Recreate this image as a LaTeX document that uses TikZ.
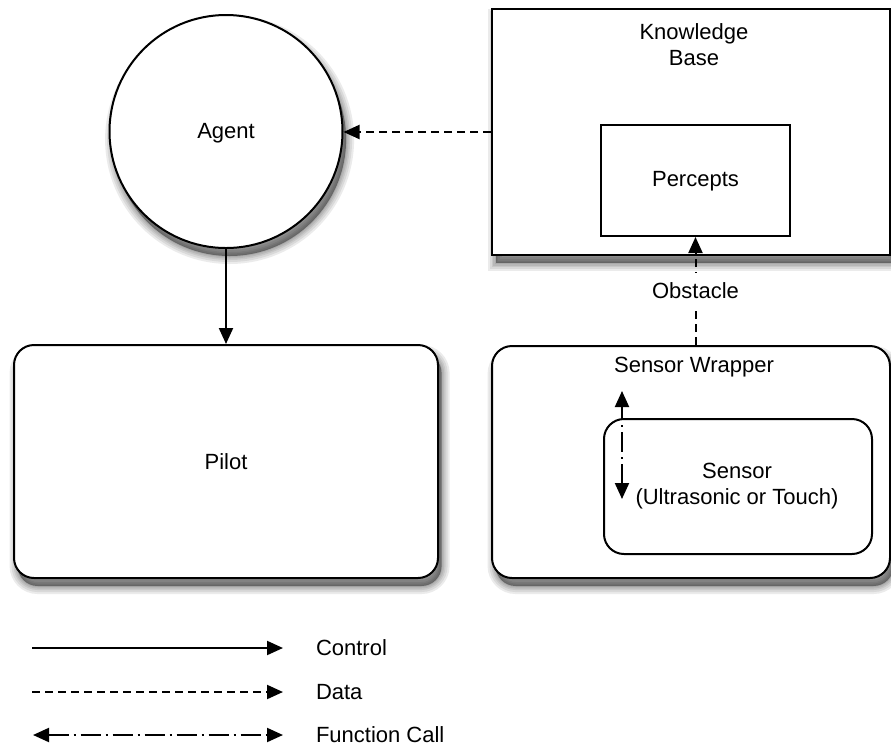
\documentclass[tikz,border=0pt]{standalone}
\usepackage{fontspec}
\setmainfont{Liberation Sans}
\usetikzlibrary{arrows.meta}
\begin{document}
\begin{tikzpicture}[x=0.5pt,y=-0.5pt,
  font=\fontsize{11}{13}\selectfont,
  line width=1pt,
  tip/.style={-{Triangle[length=8pt,width=7pt]}},
  twotip/.style={{Triangle[length=8pt,width=7pt]}-{Triangle[length=8pt,width=7pt]}},
  dataline/.style={dash pattern=on 4pt off 2.5pt},
  callline/.style={dash pattern=on 10pt off 2.5pt on 1pt off 2.5pt},
  % soft drop shadow built from layered translucent strokes
  shadowlayer/.style={preaction={draw=black,draw opacity=0.08,line width=#1,
      transform canvas={xshift=1.8pt,yshift=-4pt}}},
  softshadow/.style={shadowlayer=8pt,shadowlayer=6pt,shadowlayer=4pt,
      shadowlayer=2.5pt,shadowlayer=1pt,
      preaction={fill=black,fill opacity=0.4,transform canvas={xshift=1.8pt,yshift=-4pt}}},
  block/.style={draw,fill=white,softshadow,inner sep=0pt},
  roundblock/.style={block,rounded corners=10pt},
  lbl/.style={inner sep=1pt,align=center}]
\useasboundingbox (0,0) rectangle (891,746);

% agent and pilot
\node[block,circle,minimum size=116.5pt] (agent) at (226,131.5) {};
\node[lbl] (agenttxt) at (226,133) {Agent};
\node[roundblock,minimum width=212pt,minimum height=116.5pt] (pilot) at (226,461.5) {};
\node[lbl] (pilottxt) at (226,462) {Pilot};

% knowledge base with percepts
\node[block,minimum width=199pt,minimum height=123pt] (kb) at (691,132) {};
\node[lbl] (kbtxt) at (694,45) {Knowledge\\Base};
\node[draw,fill=white,inner sep=0pt,minimum width=94.5pt,minimum height=55.5pt] (percepts) at (695.5,180.5) {};
\node[lbl] (perceptstxt) at (695.5,181) {Percepts};

% sensor wrapper with sensor
\node[roundblock,minimum width=199pt,minimum height=116pt] (sw) at (691,462) {};
\node[lbl] (swtxt) at (694,367) {Sensor Wrapper};
\node[draw,fill=white,rounded corners=10pt,inner sep=0pt,minimum width=134pt,minimum height=67.5pt] (sensor) at (738,486.5) {};
\node[lbl] (sensortxt) at (737,486) {Sensor\\(Ultrasonic or Touch)};

% connectors
\draw[tip] (agent.south) -- (pilot.north -| agent.south);
\draw[tip,dataline] (kb.west |- 0,132) -- (agent.east |- 0,132);
\draw[tip,dataline] (sw.north -| percepts.south) -- node[fill=white,inner sep=5pt] (obst) {Obstacle} (percepts.south);
\coordinate (calltop) at (622,391);
\coordinate (callbot) at (622,499);
\draw[twotip,callline] (callbot) -- (calltop);

% legend
\coordinate (c1) at (32,648);  \coordinate (c2) at (283,648);
\coordinate (d1) at (32,692);  \coordinate (d2) at (283,692);
\coordinate (f1) at (33,735);  \coordinate (f2) at (283,735);
\draw[tip] (c1) -- (c2);
\draw[tip,dataline] (d1) -- (d2);
\draw[twotip,callline] (f1) -- (f2);
\node[lbl,anchor=west] (lc) at (313,648) {Control};
\node[lbl,anchor=west] (ld) at (313,692) {Data};
\node[lbl,anchor=west] (lf) at (313,735) {Function Call};
\end{tikzpicture}
\end{document}
